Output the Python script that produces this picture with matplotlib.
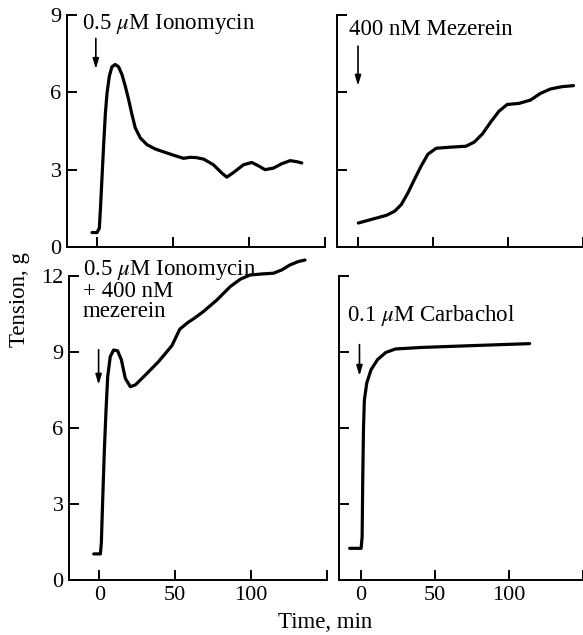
import numpy as np
import matplotlib
matplotlib.use("Agg")
import matplotlib.pyplot as plt

plt.rcParams['font.family'] = ['Liberation Serif', 'DejaVu Serif']
plt.rcParams['mathtext.fontset'] = 'stix'

# ---- data (time in min, tension in g) ----
iono_t = [-3.5, -0.2, 1.3, 2, 3.1, 4.2, 5.3, 6.4, 7.9, 9.6, 11.8, 14, 16.2, 18.4, 20.6,
          22.8, 25, 28.3, 32.7, 38.2, 44.7, 51.3, 56.8, 61.2, 65, 70, 76.5, 82, 85.3,
          89.7, 96.3, 101.8, 106.1, 110.5, 116, 121.5, 127, 131.4, 134.7]
iono_g = [0.56, 0.56, 0.73, 1.44, 2.74, 4.03, 5.2, 5.98, 6.63, 6.99, 7.08, 6.99, 6.69,
          6.24, 5.72, 5.14, 4.62, 4.23, 3.97, 3.8, 3.67, 3.54, 3.44, 3.48, 3.47, 3.41,
          3.19, 2.87, 2.71, 2.89, 3.19, 3.28, 3.15, 3.0, 3.06, 3.23, 3.35, 3.31, 3.26]

mez_t = [0.2, 10.2, 19, 24.5, 28.9, 33.3, 37.7, 42.2, 46.6, 52.1, 60.9, 72, 77.5, 83,
         88.5, 94, 99.5, 107.3, 115, 121.7, 128.3, 136, 143.7]
mez_g = [0.93, 1.09, 1.23, 1.39, 1.65, 2.1, 2.63, 3.15, 3.6, 3.83, 3.87, 3.91, 4.07,
         4.39, 4.85, 5.27, 5.53, 5.57, 5.7, 5.96, 6.13, 6.22, 6.26]

combo_t = [-3.7, 0.7, 1.3, 2.2, 3.3, 4.4, 5.5, 7.2, 9.4, 12, 14.5, 17.1, 20.4, 23.7,
           30.3, 39, 47.8, 53, 58, 63, 68.6, 77.4, 86.2, 92.8, 99.3, 107, 114.7, 120.2,
           125.7, 131.1, 135.5]
combo_g = [1.03, 1.03, 1.45, 3.16, 5.13, 6.71, 8.03, 8.82, 9.08, 9.05, 8.69, 7.96, 7.63,
           7.7, 8.09, 8.62, 9.25, 9.9, 10.15, 10.35, 10.6, 11.05, 11.58, 11.87, 12.04,
           12.08, 12.11, 12.24, 12.44, 12.57, 12.63]

carb_t = [-7.3, 0.4, 1.1, 1.5, 2, 2.6, 4.2, 7.1, 11.5, 17, 23.6, 41.3, 74.4, 114]
carb_g = [1.25, 1.25, 1.71, 3.95, 5.93, 7.1, 7.77, 8.3, 8.7, 8.98, 9.12, 9.18, 9.25, 9.33]

W, H = 583, 635
fig = plt.figure(figsize=(W / 100, H / 100), dpi=100)


def make_ax(x0, x1, y_top, y_bot, xlim, ylim, yticks, left_labels, bottom_labels):
    ax = fig.add_axes([x0 / W, 1 - y_bot / H, (x1 - x0) / W, (y_bot - y_top) / H])
    ax.set_xlim(*xlim)
    ax.set_ylim(*ylim)
    for s in ('top', 'right'):
        ax.spines[s].set_visible(False)
    for s in ('left', 'bottom'):
        ax.spines[s].set_linewidth(1.4)
    ax.tick_params(direction='in', length=7, width=1.4, labelsize=16, pad=4)
    ax.set_xticks([0, 50, 100, 150])
    ax.set_xticklabels(['0', '50', '100', ''] if bottom_labels else [''] * 4)
    ax.set_yticks(yticks)
    ax.set_yticklabels([str(v) for v in yticks] if left_labels else [''] * len(yticks))
    ax.patch.set_alpha(0)
    return ax


def arrow(ax, x, y0, y1):
    ax.annotate('', xy=(x, y1), xytext=(x, y0),
                arrowprops=dict(arrowstyle='-|>,head_length=0.6,head_width=0.18',
                                color='black', lw=1.2))


line = dict(color='black', lw=2.3, solid_joinstyle='round', solid_capstyle='round',
            clip_on=False)
txt = dict(fontsize=16.5, ha='left', va='center')

ax1 = make_ax(67, 325, 15, 247, (-20, 150), (0, 9), [0, 3, 6, 9], True, False)
ax1.plot(iono_t, iono_g, **line)
arrow(ax1, -1, 8.2, 6.8)
ax1.text(-10, 8.65, r'0.5 $\mu$M Ionomycin', **txt)

ax2 = make_ax(337, 583, 15, 247, (-14, 149), (0, 9), [0, 3, 6, 9], False, False)
ax2.plot(mez_t, mez_g, **line)
arrow(ax2, 0, 7.9, 6.15)
ax2.text(-6, 8.45, '400 nM Mezerein', **txt)

ax3 = make_ax(69, 327, 276, 580, (-20, 150), (0, 12), [0, 3, 6, 9, 12], True, True)
ax3.plot(combo_t, combo_g, **line)
arrow(ax3, -0.5, 9.2, 7.6)
ax3.text(-11, 11.45, '0.5 $\\mu$M Ionomycin\n+ 400 nM\nmezerein',
         fontsize=16.5, ha='left', va='center', linespacing=0.95)

ax4 = make_ax(339, 583, 276, 580, (-14.5, 147), (0, 12), [0, 3, 6, 9, 12], False, True)
ax4.plot(carb_t, carb_g, **line)
arrow(ax4, -0.7, 9.4, 7.95)
ax4.text(-9, 10.45, r'0.1 $\mu$M Carbachol', **txt)

fig.text(20 / W, 1 - 300 / H, 'Tension, g', rotation=90, fontsize=16.5,
         ha='center', va='center')
fig.text(325 / W, 1 - 622 / H, 'Time, min', fontsize=16.5, ha='center', va='center')

fig.savefig('out.png', dpi=100)
